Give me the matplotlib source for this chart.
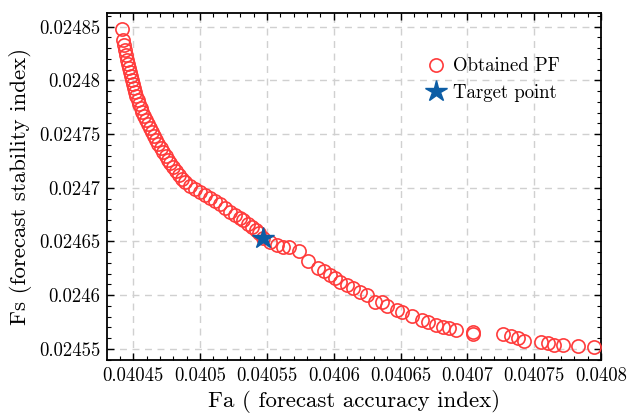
import matplotlib
matplotlib.use('Agg')
import matplotlib.pyplot as plt
from matplotlib.ticker import FuncFormatter, AutoMinorLocator
import numpy as np

# Obtained Pareto front
fa_pf = [0.0404415, 0.0404423, 0.0404430, 0.0404438, 0.0404445, 0.0404453, 0.0404460,
         0.0404468, 0.0404475, 0.0404483, 0.0404490, 0.0404498, 0.0404505, 0.0404513,
         0.0404520, 0.0404535, 0.0404543, 0.0404558, 0.0404565, 0.0404580, 0.0404595,
         0.0404610, 0.0404625, 0.0404640, 0.0404655, 0.0404670, 0.0404685, 0.0404708,
         0.0404723, 0.0404745, 0.0404760, 0.0404775, 0.0404798, 0.0404820, 0.0404843,
         0.0404865, 0.0404888, 0.0404925, 0.0404963, 0.0405000, 0.0405038, 0.0405075,
         0.0405113, 0.0405150, 0.0405188, 0.0405225, 0.0405262, 0.0405300, 0.0405322,
         0.0405360, 0.0405390, 0.0405420, 0.0405442, 0.0405472, 0.0405525, 0.0405577,
         0.0405622, 0.0405667, 0.0405742, 0.0405809, 0.0405884, 0.0405929, 0.0405974,
         0.0406012, 0.0406049, 0.0406102, 0.0406147, 0.0406199, 0.0406252, 0.0406312,
         0.0406364, 0.0406402, 0.0406477, 0.0406514, 0.0406589, 0.0406664, 0.0406709,
         0.0406762, 0.0406814, 0.0406859, 0.0406912, 0.0407039, 0.0407039, 0.0407264,
         0.0407324, 0.0407376, 0.0407421, 0.0407549, 0.0407601, 0.0407646, 0.0407714,
         0.0407826, 0.0407946]
fs_pf = [0.0248479, 0.0248376, 0.0248330, 0.0248283, 0.0248237, 0.0248190, 0.0248153,
         0.0248116, 0.0248078, 0.0248041, 0.0248004, 0.0247967, 0.0247929, 0.0247892,
         0.0247855, 0.0247818, 0.0247780, 0.0247743, 0.0247706, 0.0247669, 0.0247631,
         0.0247594, 0.0247557, 0.0247520, 0.0247482, 0.0247445, 0.0247408, 0.0247371,
         0.0247333, 0.0247296, 0.0247259, 0.0247231, 0.0247194, 0.0247157, 0.0247119,
         0.0247082, 0.0247054, 0.0247017, 0.0246989, 0.0246961, 0.0246933, 0.0246905,
         0.0246877, 0.0246849, 0.0246812, 0.0246775, 0.0246747, 0.0246719, 0.0246701,
         0.0246663, 0.0246636, 0.0246608, 0.0246580, 0.0246533, 0.0246494, 0.0246466,
         0.0246447, 0.0246447, 0.0246410, 0.0246317, 0.0246252, 0.0246224, 0.0246187,
         0.0246159, 0.0246122, 0.0246094, 0.0246066, 0.0246029, 0.0246001, 0.0245936,
         0.0245936, 0.0245899, 0.0245862, 0.0245843, 0.0245806, 0.0245769, 0.0245750,
         0.0245722, 0.0245704, 0.0245694, 0.0245676, 0.0245657, 0.0245639, 0.0245639,
         0.0245620, 0.0245601, 0.0245573, 0.0245564, 0.0245555, 0.0245536, 0.0245536,
         0.0245527, 0.0245518]

# Target point
fa_target = [0.0405472]
fs_target = [0.0246533]

plt.rcParams['font.family'] = 'serif'
plt.rcParams['font.serif'] = ['cmr10']
plt.rcParams['mathtext.fontset'] = 'cm'
plt.rcParams['axes.formatter.use_mathtext'] = True

fig = plt.figure(figsize=(6.34, 4.16), dpi=100)
ax = fig.add_axes([0.169, 0.135, 0.779, 0.834])

ax.plot(fa_pf, fs_pf, linestyle='none', marker='o', markersize=9.5,
        markerfacecolor='none', markeredgecolor='#ff3b3b', markeredgewidth=1.2,
        label='Obtained PF', zorder=3)
ax.plot(fa_target, fs_target, linestyle='none', marker='*', markersize=16,
        color='#0C5DA5', label='Target point', zorder=4)

ax.set_xlim(0.0404305, 0.0408)
ax.set_ylim(0.0245398, 0.0248628)
ax.set_xticks(np.arange(0.04045, 0.040801, 0.00005))
ax.set_yticks(np.arange(0.02455, 0.024851, 0.00005))
fmt = FuncFormatter(lambda v, p: f'{v:.6g}')
ax.xaxis.set_major_formatter(fmt)
ax.yaxis.set_major_formatter(fmt)
ax.xaxis.set_minor_locator(AutoMinorLocator(5))
ax.yaxis.set_minor_locator(AutoMinorLocator(5))
ax.tick_params(which='both', direction='in', top=True, right=True, labelsize=13.5)
ax.tick_params(which='major', length=5, width=1.0, pad=5)
ax.tick_params(which='minor', length=3, width=0.8)
for s in ax.spines.values():
    s.set_linewidth(1.3)

ax.grid(True, linestyle=(0, (5, 4)), color='#d0d0d0', linewidth=1.0)
ax.set_axisbelow(True)

ax.set_xlabel('Fa ( forecast accuracy index)', fontsize=16.5, labelpad=4)
ax.set_ylabel('Fs (forecast stability index)', fontsize=16.5, labelpad=5)

ax.legend(loc='upper right', bbox_to_anchor=(0.95, 0.92), frameon=False,
          fontsize=13.5, handlelength=1.2, handletextpad=0.3, labelspacing=0.45)

fig.savefig('out.png', dpi=100)
